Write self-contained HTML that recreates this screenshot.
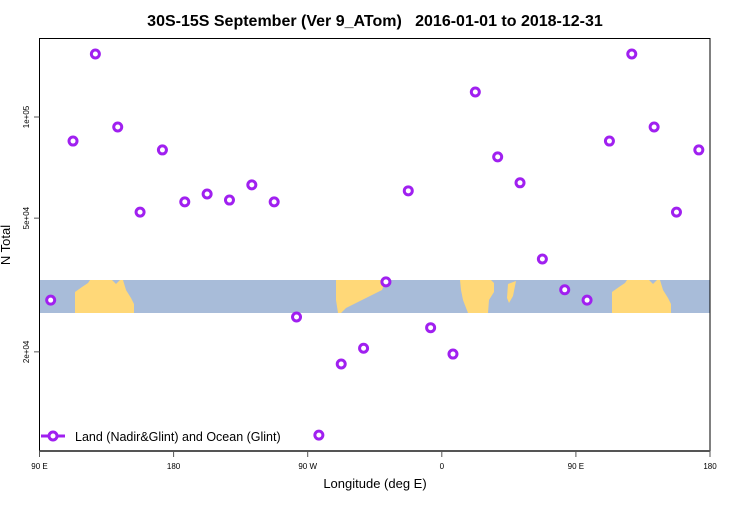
<!DOCTYPE html>
<html><head><meta charset="utf-8"><style>
body{margin:0;background:#fff;}
svg{font-family:"Liberation Sans",Arial,sans-serif;}
</style></head><body>
<svg id="chart" width="750" height="500">
<text x="375" y="26" text-anchor="middle" font-size="16" font-weight="bold" xml:space="preserve" style="white-space:pre">30S-15S September (Ver 9_ATom)   2016-01-01 to 2018-12-31</text>
<g id="band">
<rect x="39.5" y="280" width="670.5" height="33" fill="#a8bcd9"/>
<path d="M75,313 L75,292 L82,287 L88,283 L90,280 L112,280 L116,284 L120,280 L123,280 L126,290 L131,298 L134,304 L134,313 Z" fill="#ffd878"/>
<path d="M612,313 L612,292 L619,287 L625,283 L627,280 L649,280 L653,284 L657,280 L660,280 L663,290 L668,298 L671,304 L671,313 Z" fill="#ffd878"/>
<path d="M336,280 L386,280 L382,290 L372,295 L362,300 L346,308 L341,313 L338,313 L336,300 Z" fill="#ffd878"/>
<path d="M460,280 L491,280 L494,283 L494,292 L489,300 L488,313 L468,313 L463,300 L461,290 Z" fill="#ffd878"/>
<path d="M508,284 L516,281 L513,296 L509,303 L507,298 Z" fill="#ffd878"/>
</g>
<g id="axes">
<rect x="39.5" y="38.5" width="670.5" height="412.5" fill="none" stroke="#000" stroke-width="1"/>
<line x1="39.5" y1="451" x2="710" y2="451" stroke="#555" stroke-width="2"/>
</g>
<g id="xticks"></g>
<g id="yticks"></g>
<text x="375" y="488" text-anchor="middle" font-size="13">Longitude (deg E)</text>
<text transform="translate(10,245) rotate(-90)" text-anchor="middle" font-size="13">N Total</text>
<g id="points"></g>
<g>
<line x1="41" y1="436" x2="65" y2="436" stroke="#a020f0" stroke-width="3"/>
<circle cx="53" cy="436" r="4" fill="#fff" stroke="#a020f0" stroke-width="3"/>
<text x="75" y="441" font-size="12.5">Land (Nadir&amp;Glint) and Ocean (Glint)</text>
</g>
</svg>
<script>
const longitudes=[97.5,112.5,127.5,142.5,157.5,172.5,187.5,202.5,217.5,232.5,247.5,262.5,277.5,292.5,307.5,322.5,337.5,352.5,367.5,382.5,397.5,412.5,427.5,442.5];
const values=[28500,84800,154000,93400,52100,79800,55900,59000,56600,62800,55900,25400,11300,18400,20500,32300,60300,23600,19700,118700,76100,63700,37800,30600];
const xTickVals=[90,180,270,360,450,540];
const xTickLabels=["90 E","180","90 W","0","90 E","180"];
const yTickVals=[20000,50000,100000];
const yTickLabels=["2e+04","5e+04","1e+05"];
const NS="http://www.w3.org/2000/svg";
function xs(lon){return 39.5+(lon-90)*(670.5/450);}
function ys(v){return 117+336*(5-Math.log10(v));}
const xt=document.getElementById('xticks');
xTickVals.forEach((t,i)=>{
 const l=document.createElementNS(NS,'line');
 l.setAttribute('x1',xs(t));l.setAttribute('x2',xs(t));l.setAttribute('y1',451);l.setAttribute('y2',457);l.setAttribute('stroke','#555');
 
 
 xt.appendChild(l);
 const tx=document.createElementNS(NS,'text');
 tx.setAttribute('x',xs(t));tx.setAttribute('y',469);tx.setAttribute('text-anchor','middle');tx.setAttribute('font-size','8');
 tx.textContent=xTickLabels[i];
 
 
 xt.appendChild(tx);
});
const yt=document.getElementById('yticks');
yTickVals.forEach((t,i)=>{
 const y=ys(t);
 const l=document.createElementNS(NS,'line');
 l.setAttribute('x1',34);l.setAttribute('x2',39.5);l.setAttribute('y1',y);l.setAttribute('y2',y);l.setAttribute('stroke','#555');
 
 
 yt.appendChild(l);
 const tx=document.createElementNS(NS,'text');
 tx.setAttribute('transform','translate(29,'+y+') rotate(-90)');tx.setAttribute('text-anchor','middle');tx.setAttribute('font-size','8');
 tx.textContent=yTickLabels[i];
 
 
 yt.appendChild(tx);
});
const pts=document.getElementById('points');
[0,360].forEach(off=>{
 longitudes.forEach((lon,i)=>{
  const L=lon+off;
  if(L>540)return;
  const c=document.createElementNS(NS,'circle');
  c.setAttribute('cx',xs(L));c.setAttribute('cy',ys(values[i]));c.setAttribute('r',4);
  c.setAttribute('fill','#fff');c.setAttribute('stroke','#a020f0');c.setAttribute('stroke-width',3);
  
  
  pts.appendChild(c);
 });
});
</script>
</body></html>
